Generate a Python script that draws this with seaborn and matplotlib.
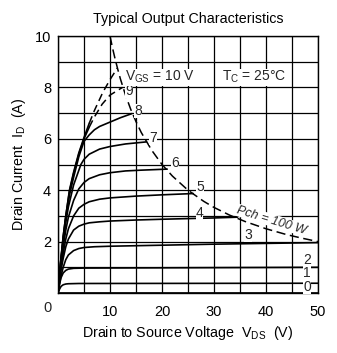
import matplotlib
matplotlib.use("Agg")
import matplotlib.pyplot as plt
import seaborn as sns

# ---- data (V_DS in volts, I_D in amperes) ----
vgs0_v = [0, 50]
vgs0_i = [0, 0]
vgs1_v = [0, 0.3, 0.6, 1, 1.5, 2, 4, 50]
vgs1_i = [0, 0.15, 0.26, 0.32, 0.35, 0.36, 0.37, 0.38]
vgs2_v = [0, 0.3, 0.6, 1, 1.5, 2, 3, 5, 50]
vgs2_i = [0, 0.35, 0.6, 0.78, 0.88, 0.93, 0.96, 0.97, 1.0]
vgs3_v = [0, 0.5, 1, 1.5, 2, 3, 4, 5, 7, 10, 20, 30, 40, 50]
vgs3_i = [0, 0.6, 1.0, 1.3, 1.48, 1.65, 1.73, 1.77, 1.8, 1.82, 1.86, 1.9, 1.93, 1.96]
vgs4_v = [0, 0.5, 1, 1.5, 2, 3, 4, 5, 6, 8, 10, 15, 20, 30, 34.5]
vgs4_i = [0, 0.8, 1.35, 1.8, 2.1, 2.45, 2.6, 2.68, 2.73, 2.77, 2.8, 2.84, 2.87, 2.92, 2.95]
vgs5_v = [0, 0.5, 1, 1.5, 2, 3, 4, 5, 6, 8, 10, 15, 20, 26]
vgs5_i = [0, 0.9, 1.55, 2.1, 2.5, 3.0, 3.3, 3.45, 3.55, 3.65, 3.7, 3.77, 3.82, 3.87]
vgs6_v = [0, 0.5, 1, 1.5, 2, 3, 4, 5, 6, 8, 10, 13, 16, 21]
vgs6_i = [0, 1.0, 1.8, 2.45, 2.95, 3.6, 4.05, 4.3, 4.45, 4.6, 4.68, 4.75, 4.78, 4.82]
vgs7_v = [0, 0.5, 1, 1.5, 2, 3, 4.4, 5, 6, 8, 10, 13, 17]
vgs7_i = [0, 1.1, 2.0, 2.75, 3.35, 4.2, 5.0, 5.2, 5.4, 5.6, 5.7, 5.8, 5.88]
vgs8_v = [0, 0.5, 1, 1.5, 2.2, 3, 4, 5, 6, 7, 8, 10, 12, 14.2]
vgs8_i = [0, 1.15, 2.1, 2.9, 3.8, 4.5, 5.3, 5.9, 6.15, 6.35, 6.48, 6.65, 6.82, 6.98]
vgs9_v = [0, 0.5, 1, 1.5, 2.2, 3, 4, 5, 6, 7, 8.5, 10, 12.4]
vgs9_i = [0, 1.2, 2.2, 3.0, 3.95, 4.65, 5.4, 6.0, 6.45, 6.85, 7.35, 7.7, 8.0]
vgs10_v = [0, 0.5, 1, 1.5, 2.2, 3, 4, 5, 6, 7, 8.6, 10, 11.4]
vgs10_i = [0, 1.2, 2.2, 3.0, 4.0, 4.7, 5.45, 6.05, 6.6, 7.1, 7.8, 8.3, 8.75]
pch_v = [10, 10.5, 11, 11.5, 12, 13, 14, 15, 16, 18, 20, 22, 25, 28, 30, 33, 36, 40, 44, 47, 50]
pch_i = [10, 9.52, 9.09, 8.70, 8.33, 7.69, 7.14, 6.67, 6.25, 5.56, 5.0, 4.55, 4.0, 3.57,
         3.33, 3.03, 2.78, 2.5, 2.27, 2.13, 2.0]
curve_labels = ["0", "1", "2", "3", "4", "5", "6", "7", "8", "9"]
x_ticklabels = ["10", "20", "30", "40", "50"]
y_ticklabels = ["2", "4", "6", "8", "10"]

sns.set_theme(style="white")
plt.rcParams["font.family"] = ["Liberation Sans", "DejaVu Sans"]
plt.rcParams["mathtext.fontset"] = "custom"
plt.rcParams["mathtext.rm"] = "Liberation Sans"
plt.rcParams["mathtext.it"] = "Liberation Sans:italic"

fig = plt.figure(figsize=(3.37, 3.53), dpi=100)
ax = fig.add_axes([58 / 337, 1 - 293 / 353, 260 / 337, 257 / 353])

solid_curves = [(vgs0_v, vgs0_i), (vgs1_v, vgs1_i), (vgs2_v, vgs2_i), (vgs3_v, vgs3_i),
                (vgs4_v, vgs4_i), (vgs5_v, vgs5_i), (vgs6_v, vgs6_i), (vgs7_v, vgs7_i),
                (vgs8_v, vgs8_i)]
for v, i in solid_curves:
    sns.lineplot(x=v, y=i, ax=ax, color="black", lw=1.2, sort=False, estimator=None)

# VGS 9 and 10: solid in lower part, dashed above
for v, i in [(vgs9_v, vgs9_i), (vgs10_v, vgs10_i)]:
    k = v.index(6)
    sns.lineplot(x=v[:k + 1], y=i[:k + 1], ax=ax, color="black", lw=1.2, sort=False, estimator=None)
    sns.lineplot(x=v[k:], y=i[k:], ax=ax, color="black", lw=1.1, sort=False, estimator=None)
    ax.lines[-1].set_dashes([5, 3])

sns.lineplot(x=pch_v, y=pch_i, ax=ax, color="black", lw=1.1, sort=False, estimator=None)
ax.lines[-1].set_dashes([6, 3])

ax.set_xlim(0, 50)
ax.set_ylim(0, 10)
ax.set_xticks(range(0, 51, 5))
ax.set_yticks(range(0, 11, 1))
xl = [""] * 11
for n, t in enumerate(x_ticklabels):
    xl[2 * (n + 1)] = t
yl = [""] * 11
for n, t in enumerate(y_ticklabels):
    yl[2 * (n + 1)] = t
ax.set_xticklabels(xl, fontsize=10.5)
ax.set_yticklabels(yl, fontsize=10.5)
ax.tick_params(length=0, pad=5, colors="black")
ax.tick_params(axis="x", pad=9)
ax.grid(True, color="black", lw=0.9)
for s in ax.spines.values():
    s.set_color("black")
    s.set_linewidth(1.0)
    s.set_visible(True)

fig.text(47 / 337, 1 - 308 / 353, "0", fontsize=10.5, ha="center", va="center")

ax.set_title("Typical Output Characteristics", fontsize=10.3, pad=9, color="black")
ax.set_xlabel("Drain to Source Voltage  V$_{\\rm DS}$  (V)", fontsize=10.3, labelpad=3, color="black")
ax.set_ylabel("Drain Current  I$_{\\rm D}$  (A)", fontsize=10.3, labelpad=5, color="black")

lab_pos = [(47.9, 0.25), (47.9, 0.76), (47.9, 1.27), (36.5, 2.27), (27.2, 3.13),
           (27.3, 4.12), (22.5, 5.06), (18.3, 6.02), (15.4, 7.1), (13.6, 7.85)]
for t, (x, y) in zip(curve_labels, lab_pos):
    ax.text(x, y, t, fontsize=10, ha="center", va="center",
            bbox=dict(facecolor="white", edgecolor="none", pad=0.0))

ax.text(12.9, 8.4, "V$_{\\rm GS}$ = 10 V", fontsize=10, ha="left", va="center",
        bbox=dict(facecolor="white", edgecolor="none", pad=0.3))
ax.text(31.5, 8.4, "T$_{\\rm C}$ = 25°C", fontsize=10, ha="left", va="center",
        bbox=dict(facecolor="white", edgecolor="none", pad=0.3))
ax.text(41.1, 2.83, "Pch = 100 W", fontsize=9, ha="center", va="center", rotation=-17,
        style="italic", bbox=dict(facecolor="white", edgecolor="none", pad=0.2))

fig.savefig("out.png", dpi=100)
